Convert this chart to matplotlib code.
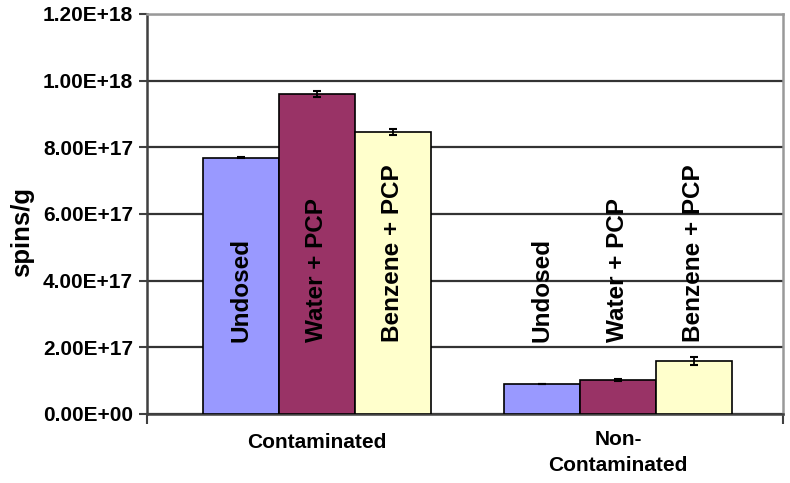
import matplotlib.pyplot as plt
import numpy as np

plt.rcParams['font.family'] = ['Liberation Sans', 'DejaVu Sans']

groups = ['Contaminated', 'Non-\nContaminated']
treatments = ['Undosed', 'Water + PCP', 'Benzene + PCP']
colors = ['#9999FF', '#993366', '#FFFFCC']

# spins/g, rows = treatment, columns = group
values = [
    [7.69e17, 0.90e17],
    [9.60e17, 1.03e17],
    [8.46e17, 1.58e17],
]
errors = [
    [0.02e17, 0.0],
    [0.08e17, 0.03e17],
    [0.10e17, 0.12e17],
]
label_y = 2.15e17

fig = plt.figure(figsize=(7.9, 4.83), dpi=100)
ax = fig.add_axes([0.186, 0.1429, 0.805, 0.8282])

x = np.arange(len(groups))
w = 0.252
for i, t in enumerate(treatments):
    pos = x + (i - 1) * w
    ax.bar(pos, values[i], w, color=colors[i], edgecolor='black', linewidth=1.2,
           zorder=3)
    ax.errorbar(pos, values[i], yerr=errors[i], fmt='none', ecolor='black',
                elinewidth=1.3, capsize=3, capthick=1.5, zorder=4)
    for p in pos:
        ax.text(p, label_y, t, rotation=90, ha='center', va='bottom',
                fontsize=17.5, fontweight='bold', zorder=5)

ax.set_ylim(0, 1.2e18)
ax.set_yticks(np.arange(0, 1.21e18, 2e17))
ax.set_yticklabels(['{:.2E}'.format(v) for v in np.arange(0, 1.21e18, 2e17)],
                   fontsize=15, fontweight='bold')
ax.set_xlim(-0.565, 1.548)
ax.set_xticks([-0.565, 1.548])
ax.set_xticklabels(['', ''])
ax.tick_params(axis='x', length=7, width=1.5, color='#404040')
ax.tick_params(axis='y', length=6, width=1.5, color='#404040', pad=4)

ax.text(x[0], -0.087e18, groups[0], ha='center', va='center',
        fontsize=15, fontweight='bold')
ax.text(x[1], -0.115e18, groups[1], ha='center', va='center',
        fontsize=15, fontweight='bold', linespacing=1.45)

ax.yaxis.grid(True, color='#333333', linewidth=1.6, zorder=0)
ax.set_axisbelow(True)
for s in ['left', 'bottom']:
    ax.spines[s].set_color('#404040')
    ax.spines[s].set_linewidth(1.8)
for s in ['top', 'right']:
    ax.spines[s].set_color('#999999')
    ax.spines[s].set_linewidth(1.8)

ax.set_ylabel('spins/g', fontsize=18.5, fontweight='bold')
ax.yaxis.set_label_coords(-0.178, 0.455)

fig.savefig('out.png', dpi=100)
